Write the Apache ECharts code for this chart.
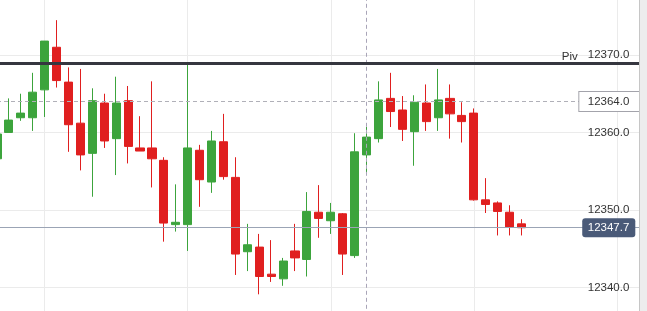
<!DOCTYPE html>
<html><head><meta charset="utf-8">
<script src="https://cdn.jsdelivr.net/npm/echarts@6/dist/echarts.min.js"></script>
<style>html,body{margin:0;padding:0;background:#fff}#c{width:647px;height:311px}</style>
</head><body><div id="c"></div>
<script>
// ---- data ----
const opens  = [12356.6,12360.0,12361.9,12361.9,12365.5,12371.0,12366.5,12361.2,12357.3,12363.8,
                12359.2,12364.1,12358.0,12358.0,12356.4,12348.1,12348.1,12357.7,12353.6,12358.8,
                12354.2,12344.6,12345.2,12341.7,12341.1,12344.7,12343.6,12349.7,12348.6,12349.5,
                12344.1,12357.1,12359.2,12364.4,12362.9,12360.1,12363.8,12361.9,12364.4,12362.2,
                12362.5,12351.3,12350.9,12349.7,12348.2];
const closes = [12359.8,12361.6,12362.5,12365.2,12371.8,12366.7,12361.0,12357.1,12364.1,12358.9,
                12363.8,12358.2,12357.6,12356.6,12348.3,12348.4,12358.0,12353.9,12358.9,12354.3,
                12344.3,12345.5,12341.4,12341.4,12343.4,12343.8,12349.8,12348.9,12349.7,12344.3,
                12357.5,12359.4,12364.2,12362.7,12360.4,12363.9,12361.4,12364.2,12362.4,12361.4,
                12351.3,12350.7,12349.8,12347.8,12347.7];
const lows   = [12356.5,12360.0,12361.5,12360.2,12362.0,12365.8,12357.5,12355.1,12351.7,12358.0,
                12354.5,12356.0,12357.6,12352.9,12345.9,12347.2,12344.7,12350.4,12352.2,12353.9,
                12341.6,12342.1,12339.1,12340.7,12340.2,12342.1,12341.4,12346.4,12346.9,12341.6,
                12343.8,12354.6,12358.7,12360.7,12358.9,12355.7,12360.2,12360.2,12359.2,12358.7,
                12351.2,12349.6,12346.7,12346.7,12346.7];
const highs  = [12360.0,12364.4,12365.0,12367.7,12371.8,12374.5,12368.4,12368.2,12365.7,12365.0,
                12367.2,12366.0,12362.1,12366.6,12356.8,12353.3,12368.8,12358.4,12360.2,12362.4,
                12356.8,12348.2,12346.9,12346.1,12343.8,12348.2,12352.3,12353.2,12350.9,12349.6,
                12359.9,12360.7,12366.6,12367.7,12364.7,12364.8,12366.2,12368.2,12366.2,12363.9,
                12363.1,12354.1,12351.1,12350.6,12348.8];
const slotCount = 55;
const categories = Array.from({length: slotCount}, (_, i) => String(i + 1));
const yTickInterval = 10;
const yMin = 12330, yMax = 12380;
const pivotLabel = 'Piv';
const pivotValue = 12368.9;
const crosshairValue = 12364.0;
const crosshairIndex = 31;
const lastPrice = 12347.7;

const candleData = opens.map((o, i) => [o, closes[i], lows[i], highs[i]]);
const FONT = '"Liberation Sans", Arial, sans-serif';
const fmt = v => Number(v).toFixed(1);

const chart = echarts.init(document.getElementById('c'), null, {renderer: 'canvas'});
chart.setOption({
  animation: false,
  backgroundColor: '#ffffff',
  grid: {left: -3, right: 6.3, top: -22.44, bottom: -53.8, outerBoundsMode: 'none', containLabel: false},
  xAxis: {
    type: 'category', data: categories, boundaryGap: false,
    axisLine: {show: false}, axisTick: {show: false}, axisLabel: {show: false},
    splitLine: {show: true, interval: (i) => i % 12 === 4, lineStyle: {color: '#ebebeb', width: 1}}
  },
  yAxis: [
    {
      type: 'value', position: 'right', min: yMin, max: yMax, interval: yTickInterval,
      axisLine: {show: false}, axisTick: {show: false},
      axisLabel: {inside: true, margin: 11.4, color: '#333', fontSize: 11.5, fontFamily: FONT,
                  formatter: fmt, showMinLabel: false, showMaxLabel: false},
      splitLine: {show: true, lineStyle: {color: '#ebebeb', width: 1}}
    },
    {
      type: 'value', position: 'right', min: yMin, max: yMax, z: 6,
      axisLine: {show: false}, axisTick: {show: false}, splitLine: {show: false},
      axisLabel: {inside: true, customValues: [crosshairValue], margin: 1.4, color: '#333',
                  fontSize: 11.5, fontFamily: FONT, formatter: fmt, lineHeight: 13,
                  backgroundColor: '#ffffff', borderColor: '#a3a3ab', borderWidth: 1,
                  padding: [3, 10, 3, 8.4]}
    },
    {
      type: 'value', position: 'right', min: yMin, max: yMax, z: 6,
      axisLine: {show: false}, axisTick: {show: false}, splitLine: {show: false},
      axisLabel: {inside: true, customValues: [lastPrice], margin: 5.4, color: '#ffffff',
                  fontSize: 11.5, fontFamily: FONT, formatter: fmt, lineHeight: 13,
                  backgroundColor: '#4a5a78', borderRadius: 3, padding: [3, 6, 3, 5.5]}
    }
  ],
  series: [
    {
      type: 'line', data: [], z: 1, silent: true, symbol: 'none',
      markLine: {
        symbol: 'none', silent: true, animation: false, label: {show: false},
        data: [
          {xAxis: crosshairIndex, lineStyle: {type: [4, 3], color: '#a9a5b8', width: 1}},
          {yAxis: crosshairValue, lineStyle: {type: [4, 3], color: '#b0b0b8', width: 1}},
          {yAxis: lastPrice, lineStyle: {type: 'solid', color: '#9ba4b5', width: 1}}
        ]
      }
    },
    {
      type: 'candlestick', data: candleData, barWidth: 8.6, z: 2,
      itemStyle: {color: '#3ca43c', color0: '#e01f1f', borderColor: '#3ca43c', borderColor0: '#e01f1f', borderWidth: 1},
      markLine: {
        symbol: 'none', silent: true, animation: false,
        data: [{
          yAxis: pivotValue,
          lineStyle: {color: '#35363f', width: 3, type: 'solid'},
          label: {show: true, formatter: pivotLabel, position: 'insideEndTop', distance: [63, 1],
                  color: '#333', fontSize: 11.5, fontFamily: FONT}
        }]
      }
    }
  ],
  graphic: [
    {type: 'rect', left: 639.3, top: 0, z: 100, shape: {width: 8, height: 311}, style: {fill: '#ededed'}},
    {type: 'line', z: 101, shape: {x1: 639.5, y1: 0, x2: 639.5, y2: 311}, style: {stroke: '#c6c6c6', lineWidth: 1}}
  ]
});
</script></body></html>
